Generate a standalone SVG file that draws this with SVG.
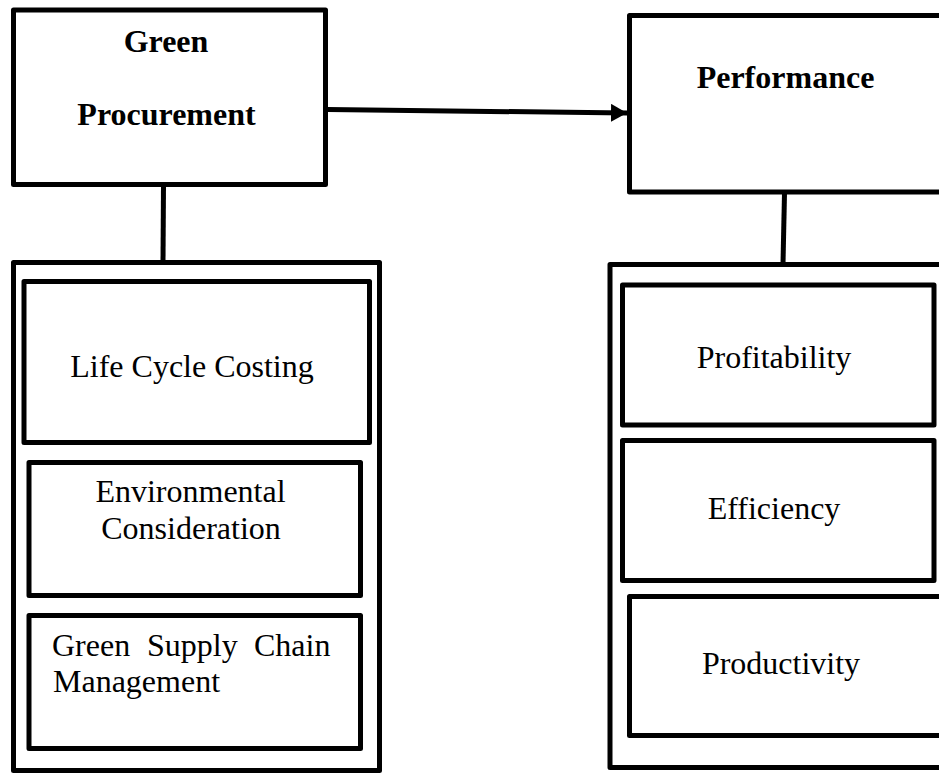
<svg xmlns="http://www.w3.org/2000/svg" width="939" height="778" viewBox="0 0 939 778">
  <style>
    .box { fill: none; stroke: #000; stroke-width: 5; stroke-linejoin: round; }
    .link { fill: none; stroke: #000; stroke-width: 5; }
    .head { font-family: "Liberation Serif", "Times New Roman", serif; font-size: 32px; font-weight: bold; fill: #000; }
    .item { font-family: "Liberation Serif", "Times New Roman", serif; font-size: 32px; fill: #000; }
  </style>
  <defs>
    <marker id="arrow" markerUnits="userSpaceOnUse" markerWidth="18" markerHeight="20" refX="16" refY="9" orient="auto">
      <path d="M0,0 L16,9 L0,18 Z" fill="#000"/>
    </marker>
  </defs>
  <rect width="939" height="778" fill="#fff"/>

  <!-- connectors -->
  <g id="connectors">
    <line class="link" x1="328" y1="109.5" x2="627" y2="113" stroke-width="5.5" marker-end="url(#arrow)"/>
    <line class="link" x1="163.5" y1="186" x2="163" y2="262"/>
    <line class="link" x1="784.5" y1="193" x2="783" y2="264"/>
  </g>

  <!-- independent variable -->
  <g id="green-procurement">
    <rect class="box" x="13.5" y="10" width="312" height="174.5"/>
    <text class="head" x="166" y="52" text-anchor="middle">Green</text>
    <text class="head" x="166.5" y="125" text-anchor="middle">Procurement</text>
  </g>

  <g id="gp-dimensions">
    <rect class="box" x="13.5" y="262.5" width="366" height="508"/>
  </g>

  <g id="life-cycle-costing">
    <rect class="box" x="24" y="281.5" width="345.5" height="161"/>
    <text class="item" x="192" y="377" text-anchor="middle">Life Cycle Costing</text>
  </g>

  <g id="environmental-consideration">
    <rect class="box" x="29" y="462.5" width="331.5" height="133"/>
    <text class="item" x="190.5" y="502" text-anchor="middle">Environmental</text>
    <text class="item" x="191" y="539" text-anchor="middle">Consideration</text>
  </g>

  <g id="green-supply-chain">
    <rect class="box" x="29" y="615.5" width="331.5" height="133"/>
    <text class="item" y="656"><tspan x="52">Green</tspan><tspan x="147">Supply</tspan><tspan x="254">Chain</tspan></text>
    <text class="item" x="53" y="692">Management</text>
  </g>

  <!-- dependent variable -->
  <g id="performance">
    <rect class="box" x="629.5" y="15.5" width="330" height="176.5"/>
    <text class="head" x="785.5" y="88" text-anchor="middle">Performance</text>
  </g>

  <g id="perf-dimensions">
    <rect class="box" x="610" y="264.5" width="350" height="503"/>
  </g>

  <g id="profitability">
    <rect class="box" x="622.5" y="285" width="311.5" height="140"/>
    <text class="item" x="774" y="368" text-anchor="middle">Profitability</text>
  </g>

  <g id="efficiency">
    <rect class="box" x="622.5" y="440.5" width="311.5" height="140"/>
    <text class="item" x="774" y="519" text-anchor="middle">Efficiency</text>
  </g>

  <g id="productivity">
    <rect class="box" x="629.5" y="596.5" width="330" height="139"/>
    <text class="item" x="781" y="674" text-anchor="middle">Productivity</text>
  </g>
</svg>
